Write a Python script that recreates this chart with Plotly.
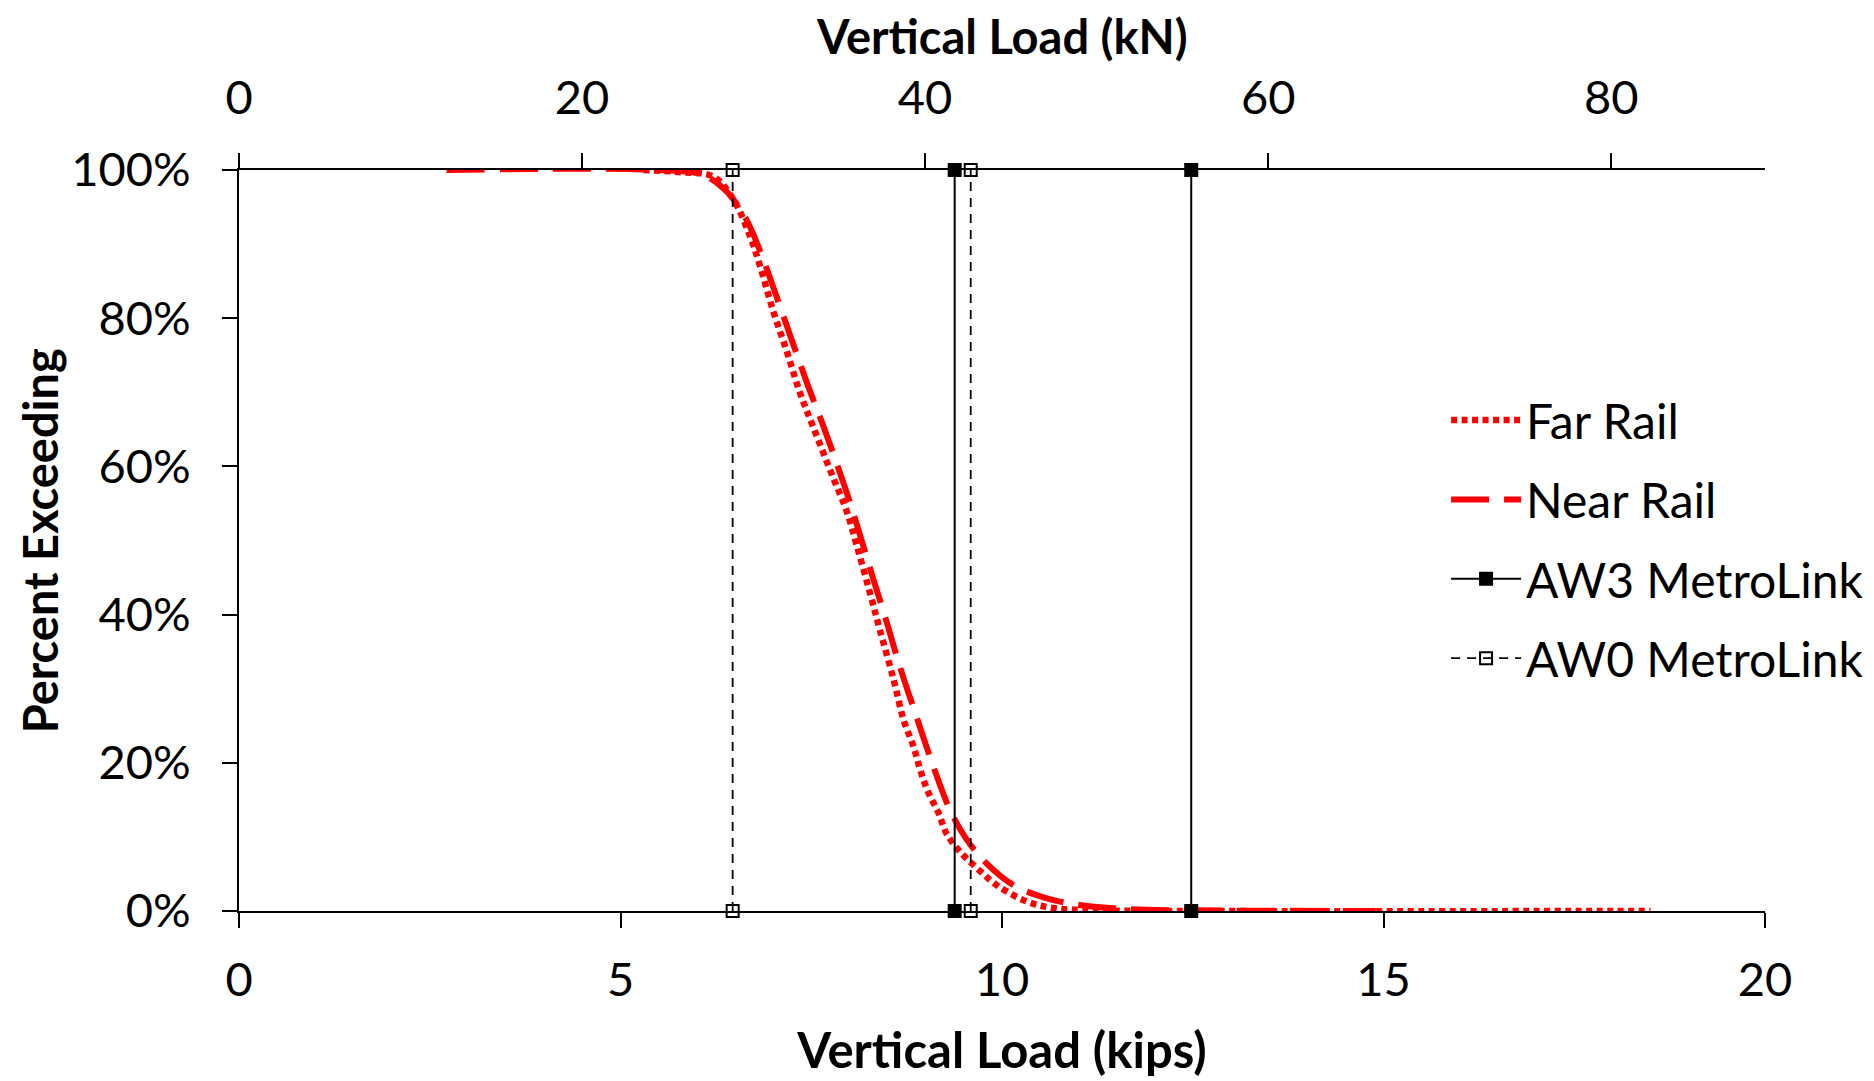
import plotly.graph_objects as go

# ---- data (kips, percent exceeding) ----
far_kips = [5.3, 5.8, 6.22, 6.48, 6.70, 6.83, 7.00, 7.18, 7.35, 7.53, 7.79, 7.96, 8.10, 8.27, 8.40,
            8.58, 8.71, 8.84, 8.93, 9.03, 9.17, 9.27, 9.45, 9.67, 9.93, 10.32, 10.67, 11.2, 12.5, 18.5]
far_pct = [100, 99.7, 99.1, 96.0, 91.0, 87.0, 81.0, 75.5, 70.0, 65.2, 58.4, 54.1, 49.2, 42.9, 37.9,
           31.2, 25.8, 22.2, 19.0, 16.1, 13.2, 10.5, 8.0, 5.8, 3.5, 1.3, 0.4, 0.1, 0, 0]

near_kips = [2.72, 5.5, 6.09, 6.4, 6.65, 6.85, 7.07, 7.26, 7.46, 7.66, 7.96, 8.14, 8.31, 8.48, 8.66,
             8.88, 9.10, 9.32, 9.54, 9.80, 10.15, 10.59, 11.02, 11.46, 12.0, 13.0, 14.9]
near_pct = [100, 100, 99.3, 97.0, 93.3, 88.5, 82.2, 76.6, 70.8, 65.4, 56.6, 50.7, 44.9, 39.3, 33.0,
            26.2, 19.5, 13.6, 9.6, 6.4, 3.5, 1.7, 0.8, 0.36, 0.15, 0.05, 0]

aw3_kips = [9.38, 12.48]
aw0_kips = [6.47, 9.59]
pct_limits = [0, 100]

x_ticks_kips = [0, 5, 10, 15, 20]
x_ticks_kn = [0, 20, 40, 60, 80]
y_ticks = [0, 20, 40, 60, 80, 100]
y_tick_text = ["0%", "20%", "40%", "60%", "80%", "100%"]
KN_PER_KIP = 4.44822

FONT = "Lato"
FS = 47


def vlines(xs):
    xx, yy = [], []
    for i, v in enumerate(xs):
        if i:
            xx.append(None)
            yy.append(None)
        xx += [v, v]
        yy += list(pct_limits)
    return xx, yy


fig = go.Figure()

fig.add_trace(go.Scatter(
    x=far_kips, y=far_pct, name="Far Rail", mode="lines", line_shape="spline",
    line=dict(color="#FF0000", width=6.5, dash="6px,4.5px"),
    legendgroup="a", cliponaxis=False))
fig.add_trace(go.Scatter(
    x=near_kips, y=near_pct, name="Near Rail", mode="lines", line_shape="spline",
    line=dict(color="#FF0000", width=6, dash="38px,15px"),
    legendgroup="b", cliponaxis=False))

x3, y3 = vlines(aw3_kips)
fig.add_trace(go.Scatter(
    x=x3, y=y3, name="AW3 MetroLink", mode="lines+markers",
    line=dict(color="black", width=2),
    marker=dict(symbol="square", size=14, color="black"),
    legendgroup="c", cliponaxis=False))
x0, y0 = vlines(aw0_kips)
fig.add_trace(go.Scatter(
    x=x0, y=y0, name="AW0 MetroLink", mode="lines+markers",
    line=dict(color="black", width=1.8, dash="9px,7px"),
    marker=dict(symbol="square-open", size=12, color="black", line=dict(width=2)),
    legendgroup="d", cliponaxis=False))

# dummy trace so the top (kN) axis is drawn
fig.add_trace(go.Scatter(x=[x_ticks_kn[0]], y=[None], xaxis="x2", showlegend=False,
                         hoverinfo="skip", mode="lines"))

tickfont = dict(family=FONT, size=FS, color="black")
titlefont = dict(family=FONT, size=49, color="black", weight="bold")
sidefont = dict(family=FONT, size=47, color="black", weight="bold")

fig.update_layout(
    width=1874, height=1081,
    margin=dict(l=231, r=117, t=162, b=178),
    plot_bgcolor="white", paper_bgcolor="white",
    font=dict(family=FONT, color="black"),
    xaxis=dict(
        range=[0, 20], tickvals=x_ticks_kips, showgrid=False, zeroline=False,
        showline=True, linecolor="black", linewidth=2, automargin=False,
        ticks="outside", ticklen=15, tickwidth=1.5, tickcolor="black",
        tickfont=tickfont, ticklabelstandoff=12,
        title=dict(text="Vertical Load (kips)", font=titlefont, standoff=28),
    ),
    xaxis2=dict(
        range=[0, 20 * KN_PER_KIP], tickvals=x_ticks_kn, overlaying="x", side="top",
        showgrid=False, zeroline=False, showline=True, linecolor="black", linewidth=2,
        automargin=False,
        ticks="outside", ticklen=15, tickwidth=1.5, tickcolor="black",
        tickfont=tickfont, ticklabelstandoff=20,
    ),
    yaxis=dict(
        range=[0, 100], tickvals=y_ticks, ticktext=y_tick_text, showgrid=False, zeroline=False,
        showline=True, linecolor="black", linewidth=2, automargin=False,
        ticks="outside", ticklen=15, tickwidth=1.5, tickcolor="black",
        tickfont=tickfont, ticklabelstandoff=22,
    ),
    legend=dict(
        x=0.791, y=0.7135, xanchor="left", yanchor="top",
        font=dict(family=FONT, size=48, color="black"),
        bgcolor="rgba(0,0,0,0)", itemwidth=70, tracegroupgap=14,
        traceorder="grouped",
    ),
    showlegend=True,
    annotations=[
        dict(text="Vertical Load (kN)", font=sidefont, showarrow=False,
             xref="paper", yref="paper", x=0.5, y=1.181, xanchor="center", yanchor="middle"),
        dict(text="Percent Exceeding", font=sidefont, showarrow=False, textangle=-90,
             xref="paper", yref="paper", x=-0.1305, y=0.5, xanchor="center", yanchor="middle"),
    ],
)

fig.write_html("out.html")
